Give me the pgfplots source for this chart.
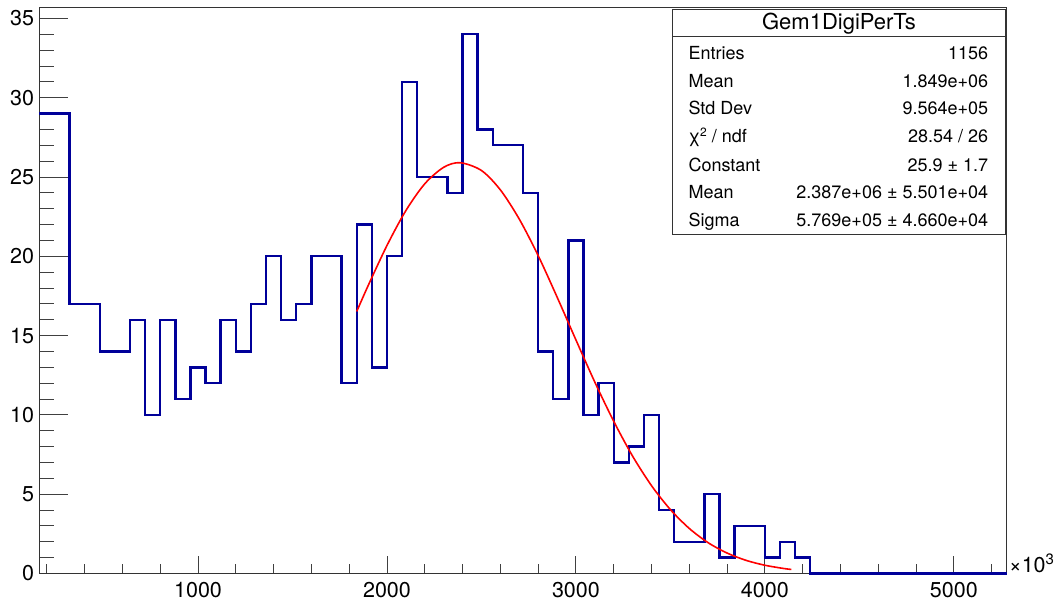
\documentclass[border=0pt]{standalone}
\usepackage{fontspec}
\setmainfont{TeX Gyre Heros}
\usepackage{pgfplots}
\pgfplotsset{compat=1.18}
\definecolor{histblue}{RGB}{0,0,153}
\begin{document}
\begin{tikzpicture}[x=1pt,y=1pt]
\useasboundingbox (0,0) rectangle (1060,601);
\pgfplotsset{common/.style={scale only axis, width=967.4pt, height=566.2pt,
  at={(39.3pt,27.5pt)}, anchor=south west, xmin=160, xmax=5280, ymin=0, ymax=35.7,
  tick align=inside, tick pos=left, axis line style={black!80, line width=1pt},
  tick style={black!75, line width=0.9pt},
  tick label style={font=\fontsize{21.5}{24}\selectfont},
  /pgf/number format/assume math mode=true}}
% y ticks
\begin{axis}[common, xtick=\empty, ytick={0,5,10,15,20,25,30,35},
  minor ytick={1,2,3,4,6,7,8,9,11,12,13,14,16,17,18,19,21,22,23,24,26,27,28,29,31,32,33,34},
  major tick length=29pt, minor tick length=14.5pt,
  yticklabel style={anchor=east, inner sep=0pt, xshift=-5pt}]
\end{axis}
% x ticks + data
\begin{axis}[common, clip=false, ytick=\empty,
  xtick={1000,2000,3000,4000,5000}, xticklabels={1000,2000,3000,4000,5000},
  minor xtick={200,400,600,800,1200,1400,1600,1800,2200,2400,2600,2800,3200,3400,3600,3800,4200,4400,4600,4800,5200},
  major tick length=17pt, minor tick length=9pt,
  xticklabel style={anchor=north, inner sep=0pt, yshift=-9pt}]
\addplot[const plot, histblue, line width=2.4pt] coordinates {
(160,29) (240,29) (320,17) (400,17) (480,14) (560,14) (640,16) (720,10)
(800,16) (880,11) (960,13) (1040,12) (1120,16) (1200,14) (1280,17) (1360,20)
(1440,16) (1520,17) (1600,20) (1680,20) (1760,12) (1840,22) (1920,13) (2000,20)
(2080,31) (2160,25) (2240,25) (2320,24) (2400,34) (2480,28) (2560,27) (2640,27)
(2720,24) (2800,14) (2880,11) (2960,21) (3040,10) (3120,12) (3200,7) (3280,8)
(3360,10) (3440,4) (3520,2) (3600,2) (3680,5) (3760,1) (3840,3) (3920,3)
(4000,1) (4080,2) (4160,1) (4240,0) (4320,0) (4400,0) (4480,0) (4560,0)
(4640,0) (4720,0) (4800,0) (4880,0) (4960,0) (5040,0) (5120,0) (5200,0) (5280,0)};
\addplot[red, line width=1.6pt, smooth] coordinates {
(1840,16.52) (1900,18.14) (2000,20.68) (2100,22.88) (2200,24.57) (2300,25.61)
(2387,25.90) (2500,25.41) (2600,24.19) (2700,22.35) (2800,20.05) (2900,17.44)
(3000,14.73) (3100,12.07) (3200,9.60) (3300,7.40) (3400,5.54) (3500,4.03)
(3600,2.84) (3700,1.94) (3800,1.29) (3900,0.83) (4000,0.52) (4100,0.315) (4140,0.256)};
\end{axis}
% x10^3
\node[anchor=base west, inner sep=0pt, font=\fontsize{21.5}{24}\selectfont] at (1009,28) {×10\raisebox{8pt}{\fontsize{15}{16}\selectfont 3}};
% stats box
\draw[draw=black!80, fill=white, line width=1pt] (672.7,591.7) rectangle (1005,366.7);
\draw[black!80, line width=1pt] (672.7,564) -- (1005,564);
\node[anchor=base, inner sep=0pt, font=\fontsize{22}{24}\selectfont] at (839,571) {Gem1DigiPerTs};
\begin{scope}[every node/.style={inner sep=0pt, font=\fontsize{18}{20}\selectfont}]
\node[anchor=base west] at (688.3,541.4) {Entries};
\node[anchor=base east] at (988.3,541.4) {1156};
\node[anchor=base west] at (688.3,513.7) {Mean};
\node[anchor=base east] at (988.3,513.7) {1.849e+06};
\node[anchor=base west] at (688.3,486.4) {Std Dev};
\node[anchor=base east] at (988.3,486.4) {9.564e+05};
\node[anchor=base west] at (688.3,458.7) {χ\raisebox{6pt}{\fontsize{12}{13}\selectfont 2} / ndf};
\node[anchor=base east] at (988.3,458.7) {28.54 / 26};
\node[anchor=base west] at (688.3,429.7) {Constant};
\node[anchor=base east] at (988.3,429.7) {25.9 ± 1.7};
\node[anchor=base west] at (688.3,402) {Mean};
\node[anchor=base east] at (988.3,402) {2.387e+06 ± 5.501e+04};
\node[anchor=base west] at (688.3,374.7) {Sigma};
\node[anchor=base east] at (988.3,374.7) {5.769e+05 ± 4.660e+04};
\end{scope}
\end{tikzpicture}
\end{document}
